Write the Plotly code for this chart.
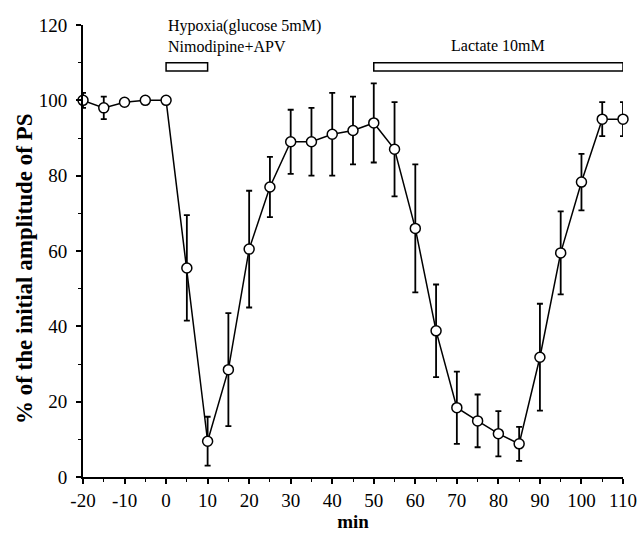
import plotly.graph_objects as go

minutes = [-20, -15, -10, -5, 0, 5, 10, 15, 20, 25, 30, 35, 40, 45, 50, 55, 60, 65,
           70, 75, 80, 85, 90, 95, 100, 105, 110]
amplitude = [100, 98, 99.5, 100, 100, 55.5, 9.5, 28.5, 60.5, 77, 89, 89, 91, 92, 94,
             87, 66, 38.8, 18.4, 14.9, 11.5, 8.8, 31.8, 59.5, 78.3, 95, 95]
sem = [2, 3, 0, 0, 0, 14, 6.5, 15, 15.5, 8, 8.5, 9, 11, 9, 10.5,
       12.5, 17, 12.3, 9.6, 7, 6, 4.5, 14.2, 11, 7.5, 4.5, 4.5]

x_ticks = [-20, -10, 0, 10, 20, 30, 40, 50, 60, 70, 80, 90, 100, 110]
x_ticklabels = ["-20", "-10", "0", "10", "20", "30", "40", "50", "60", "70", "80", "90", "100", "110"]
y_ticks = [0, 20, 40, 60, 80, 100, 120]

period_start = [0, 50]
period_end = [10, 110]
period_labels = ["Hypoxia(glucose 5mM)<br>Nimodipine+APV", "Lactate 10mM"]

x_title = "min"
y_title = "% of the initial amplitude of PS"

serif = "Liberation Serif"

fig = go.Figure()
fig.add_trace(go.Scatter(
    x=minutes, y=amplitude,
    mode="lines+markers",
    line=dict(color="black", width=1.5),
    marker=dict(symbol="circle", size=10, color="white",
                line=dict(color="black", width=1.5)),
    error_y=dict(type="data", array=sem, visible=True, color="black",
                 thickness=1.8, width=3),
    cliponaxis=False,
    showlegend=False,
))

for s, e in zip(period_start, period_end):
    fig.add_shape(type="rect", xref="x", yref="y", x0=s, x1=e, y0=107.8, y1=110,
                  line=dict(color="black", width=1.5), fillcolor="white")

fig.add_annotation(x=period_start[0], y=111.3, xref="x", yref="y", text=period_labels[0],
                   showarrow=False, xanchor="left", yanchor="bottom", align="left",
                   font=dict(family=serif, size=16, color="black"))
fig.add_annotation(x=(period_start[1] + period_end[1]) / 2, y=111.8, xref="x", yref="y",
                   text=period_labels[1], showarrow=False, xanchor="center", yanchor="bottom",
                   font=dict(family=serif, size=16, color="black"))

# y-axis title (placed slightly below centre, as in the original figure)
fig.add_annotation(x=0, y=0.46, xref="paper", yref="paper", xshift=-59,
                   text="<b>" + y_title + "</b>", textangle=-90, showarrow=False,
                   xanchor="center", yanchor="middle",
                   font=dict(family=serif, size=23, color="black"))

fig.update_layout(
    width=640, height=535,
    margin=dict(l=83, r=17, t=25, b=58),
    plot_bgcolor="white", paper_bgcolor="white",
    font=dict(family=serif, color="black"),
)
fig.update_xaxes(
    range=[-20, 110], tickmode="array", tickvals=x_ticks, ticktext=x_ticklabels,
    automargin=False,
    ticks="outside", ticklen=5, tickwidth=1.5, tickcolor="black",
    minor=dict(tickvals=list(range(-15, 110, 10)), ticks="outside", ticklen=3,
               tickwidth=1.2, tickcolor="black"),
    showline=True, linecolor="black", linewidth=2, showgrid=False, zeroline=False,
    tickfont=dict(family=serif, size=19, color="black"),
    title=dict(text="<b>" + x_title + "</b>", font=dict(family=serif, size=19, color="black"),
               standoff=3),
)
fig.update_yaxes(
    range=[0, 120], tickmode="array", tickvals=y_ticks,
    automargin=False,
    ticks="outside", ticklen=5, tickwidth=1.5, tickcolor="black",
    minor=dict(tickvals=list(range(10, 120, 20)), ticks="outside", ticklen=3,
               tickwidth=1.2, tickcolor="black"),
    showline=True, linecolor="black", linewidth=2, showgrid=False, zeroline=False,
    tickfont=dict(family=serif, size=19, color="black"),
    ticklabelstandoff=5,
)

fig.write_html("out.html")
